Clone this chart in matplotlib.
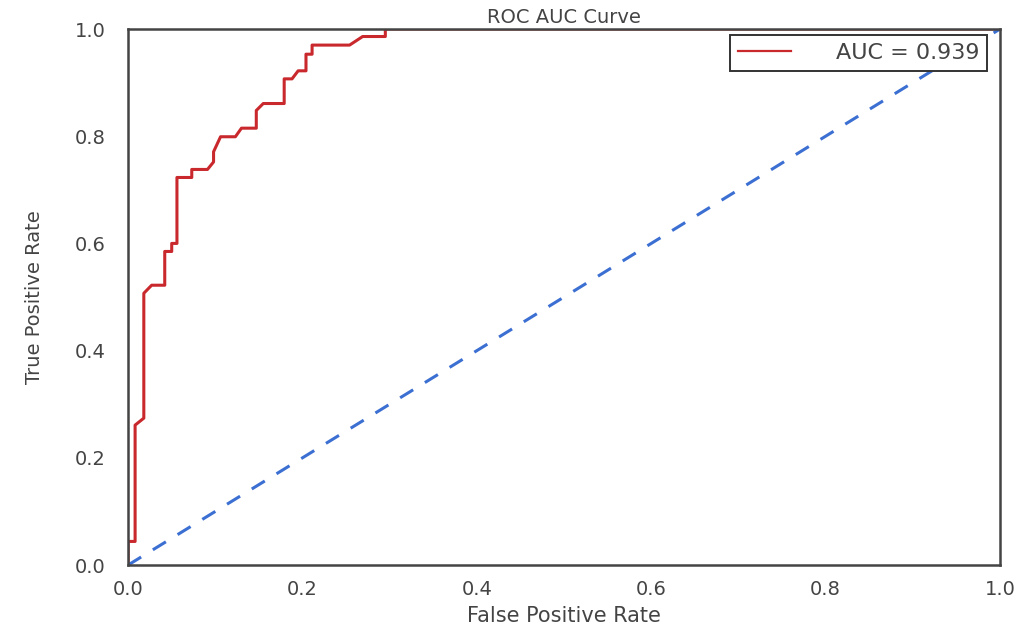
import matplotlib
matplotlib.use('Agg')
import matplotlib.pyplot as plt

# ROC curve points
fpr = [0.0, 0.0, 0.008, 0.008, 0.018, 0.018, 0.027, 0.042, 0.042, 0.050, 0.050,
       0.056, 0.056, 0.073, 0.073, 0.091, 0.098, 0.098, 0.106, 0.123, 0.130,
       0.147, 0.147, 0.155, 0.179, 0.179, 0.188, 0.195, 0.204, 0.204, 0.211,
       0.211, 0.254, 0.269, 0.295, 0.295, 1.0]
tpr = [0.0, 0.044, 0.044, 0.261, 0.274, 0.507, 0.522, 0.522, 0.585, 0.585, 0.600,
       0.600, 0.723, 0.723, 0.738, 0.738, 0.752, 0.771, 0.799, 0.799, 0.815,
       0.815, 0.848, 0.861, 0.861, 0.907, 0.907, 0.922, 0.922, 0.953, 0.953,
       0.970, 0.970, 0.986, 0.986, 1.0, 1.0]
auc_value = 0.939
chance = [0.0, 1.0]

text_color = '#444444'

fig = plt.figure(figsize=(10.25, 6.28), dpi=100)
ax = fig.add_axes([0.125, 0.1003, 0.8506, 0.8535])

ax.plot(fpr, tpr, color='#c9282d', lw=2.2, label='AUC = %0.3f' % auc_value)
ax.plot(chance, chance, color='#3c6fd2', lw=2.2, dashes=(5, 4.5))

ax.set_xlim(0, 1)
ax.set_ylim(0, 1)
ax.set_xticks([0.0, 0.2, 0.4, 0.6, 0.8, 1.0])
ax.set_yticks([0.0, 0.2, 0.4, 0.6, 0.8, 1.0])
ax.tick_params(axis='both', length=0, labelsize=14, colors=text_color)
ax.tick_params(axis='x', pad=11)
ax.tick_params(axis='y', pad=16)

for s in ax.spines.values():
    s.set_color('#444444')
    s.set_linewidth(1.8)

ax.set_title('ROC AUC Curve', fontsize=14, color=text_color, pad=4)
ax.set_xlabel('False Positive Rate', fontsize=15, color=text_color, labelpad=5)
ax.set_ylabel('True Positive Rate', fontsize=14, color=text_color, labelpad=22)

leg = ax.legend(loc='upper right', fontsize=16, fancybox=False, framealpha=1,
                handlelength=2.4, handletextpad=2.0, borderpad=0.35,
                borderaxespad=0, bbox_to_anchor=(0.985, 0.988))
leg.get_frame().set_edgecolor('#333333')
leg.get_frame().set_linewidth(1.4)
for t in leg.get_texts():
    t.set_color(text_color)
for h in leg.get_lines():
    h.set_linewidth(1.6)

fig.savefig('out.png', dpi=100)
